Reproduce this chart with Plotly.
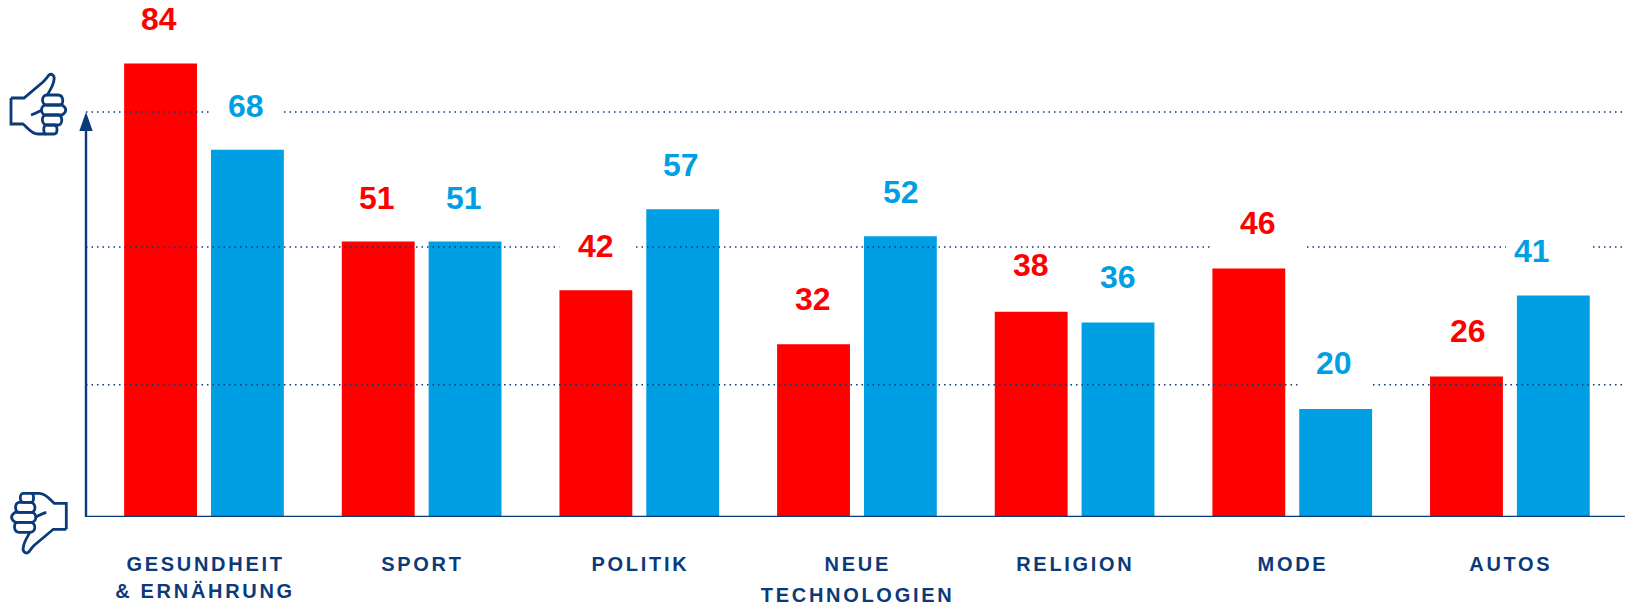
import re
import plotly.graph_objects as go

first_lines = ["GESUNDHEIT", "SPORT", "POLITIK", "NEUE", "RELIGION", "MODE", "AUTOS"]
second_lines = ["&amp; ERNÄHRUNG", "", "", "TECHNOLOGIEN", "", "", ""]
categories = ["Gesundheit & Ernährung", "Sport", "Politik", "Neue Technologien", "Religion", "Mode", "Autos"]
red_values = [84, 51, 42, 32, 38, 46, 26]
blue_values = [68, 51, 57, 52, 36, 20, 41]
reference_levels = [75, 50, 24.5]

RED = "#FF0000"
BLUE = "#009FE3"
NAVY = "#0B3A7A"
FONT = "Liberation Sans"
W, H = 1625, 605
BASE = 517
PX_PER_UNIT = 5.4
GROUP = 217.65
CENTER0 = 204
X_MIN = -CENTER0 / GROUP
X_AXIS = (86 - CENTER0) / GROUP
X_MAX = (W - CENTER0) / GROUP

fig = go.Figure()
fig.add_bar(x=categories, y=red_values, marker_color=RED, marker_line_width=0, name="red")
fig.add_bar(x=categories, y=blue_values, marker_color=BLUE, marker_line_width=0, name="blue")

shapes = []
for lvl in reference_levels:
    shapes.append(dict(type="line", xref="x", yref="y", x0=X_AXIS, x1=X_MAX, y0=lvl, y1=lvl, layer="above",
                       line=dict(color=NAVY, width=1.5, dash="1.5px,4px")))

annotations = []
mask = {42: (73, 0), 46: (96, 10), 41: (84, -5.5), 20: (74, -1), 68: (74, -1)}
nudge = {42: (2, 0), 46: (11, 2), 41: (-20, 1), 20: (0, 2), 38: (1, 3), 36: (1, 2), 26: (3, 2), 32: (1, 1), 52: (2, 0)}
for vals, color, off in ((red_values, RED, -43.5), (blue_values, BLUE, 43.5)):
    for i, v in enumerate(vals):
        if v in mask:
            w, d = mask[v]
            cx = off + d
            shapes.append(dict(type="rect", xref="x", yref="y", xsizemode="pixel", ysizemode="pixel",
                               xanchor=i, yanchor=v, x0=cx - w / 2, x1=cx + w / 2, y0=20, y1=60,
                               layer="above", fillcolor="white", line_width=0))
        dx, dy = nudge.get(v, (0, 0))
        annotations.append(dict(x=i, y=v, xref="x", yref="y", text=f"<b>{v}</b>", showarrow=False,
                                xshift=off - 1.5 + dx, yshift=44 + dy, yanchor="middle",
                                font=dict(family=FONT, size=32, color=color)))

# axes
shapes.append(dict(type="line", xref="x", yref="y", x0=X_AXIS, x1=X_AXIS, y0=0, y1=72, layer="above",
                   line=dict(color=NAVY, width=2.4)))
shapes.append(dict(type="line", xref="x", yref="y", x0=X_AXIS, x1=X_MAX, y0=0, y1=0, layer="above",
                   line=dict(color=NAVY, width=2.4)))
shapes.append(dict(type="path", xref="x", yref="y", xsizemode="pixel", ysizemode="pixel", xanchor=X_AXIS, yanchor=75,
                   path="M 0 0 L 6.7 -19 L -6.7 -19 Z", fillcolor=NAVY, line_width=0, layer="above"))

# category labels
for i, (a, b) in enumerate(zip(first_lines, second_lines)):
    annotations.append(dict(x=i, y=0, xref="x", yref="y", text=f"<b>{a}</b>", showarrow=False,
                            yshift=-47, yanchor="middle", xshift=1,
                            font=dict(family=FONT, size=20, color=NAVY)))
    if b:
        annotations.append(dict(x=i, y=0, xref="x", yref="y", text=f"<b>{b}</b>", showarrow=False,
                                yshift=-74 if i == 0 else -78, yanchor="middle", xshift=1,
                                font=dict(family=FONT, size=20, color=NAVY)))

# thumb icons, drawn in paper fractions from pixel outlines
THUMB = [
    "M 11 48 L 11 74 L 23 74 C 27 77 31 84 38 84 L 46 84",
    "M 11 48 L 24 48 L 43 32 C 46 29 48 26 49 25 C 52 23 55 26 54 30 C 53 37 49 41 47 46",
    "M 47 45 L 58 45 C 64 45 64 55 60 55 L 47 55 C 41 55 41 45 47 45",
    "M 46 55 L 62 55 C 67 58 67 62 62 65 L 46 65 C 40 65 40 55 46 55",
    "M 46 65 L 58 65 C 63 65 63 75 58 75 L 47 75 C 41 75 41 65 46 65",
    "M 46 75 L 54 75 C 58 75 58 84 54 84 L 46 84 C 43 84 43 75 46 75",
    "M 31 65 C 35 64 38 62 42 60",
]


def convert(path, fx, fy):
    out = []
    nums = []
    for t in re.findall(r"[MLC]|-?[\d.]+", path):
        if t in "MLC":
            out.append(t)
        else:
            nums.append(float(t))
            if len(nums) == 2:
                px, py = fx(nums[0]), fy(nums[1])
                out.append(f"{px / W:.5f},{(H - py) / H:.5f}")
                nums = []
    return " ".join(out)


for sub in THUMB:
    shapes.append(dict(type="path", xref="paper", yref="paper", layer="above",
                       path=convert(sub, lambda x: x, lambda y: y + 50), line=dict(color=NAVY, width=2.8)))
    shapes.append(dict(type="path", xref="paper", yref="paper", layer="above",
                       path=convert(sub, lambda x: 77.3 - x, lambda y: 470 + 107.3 - y), line=dict(color=NAVY, width=2.8)))

fig.update_layout(
    width=W, height=H, autosize=False, margin=dict(l=0, r=0, t=0, b=0),
    paper_bgcolor="white", plot_bgcolor="white", showlegend=False,
    barmode="group", bargap=0.202, bargroupgap=0.161,
    shapes=shapes, annotations=annotations,
    xaxis=dict(type="category", categoryorder="array", categoryarray=categories, range=[X_MIN, X_MAX],
               domain=[0, 1], showticklabels=False, showgrid=False, zeroline=False, ticks=""),
    yaxis=dict(range=[0, BASE / PX_PER_UNIT], domain=[(H - BASE) / H, 1], showticklabels=False,
               showgrid=False, zeroline=False, ticks=""),
)

post = """
document.body.style.margin='0';
document.querySelectorAll('.annotation text').forEach(function(t){
  if(/[A-Z]/.test(t.textContent)){t.style.letterSpacing='2.7px';}
});
"""
fig.write_html("out.html", post_script=post, config={"displayModeBar": False})
